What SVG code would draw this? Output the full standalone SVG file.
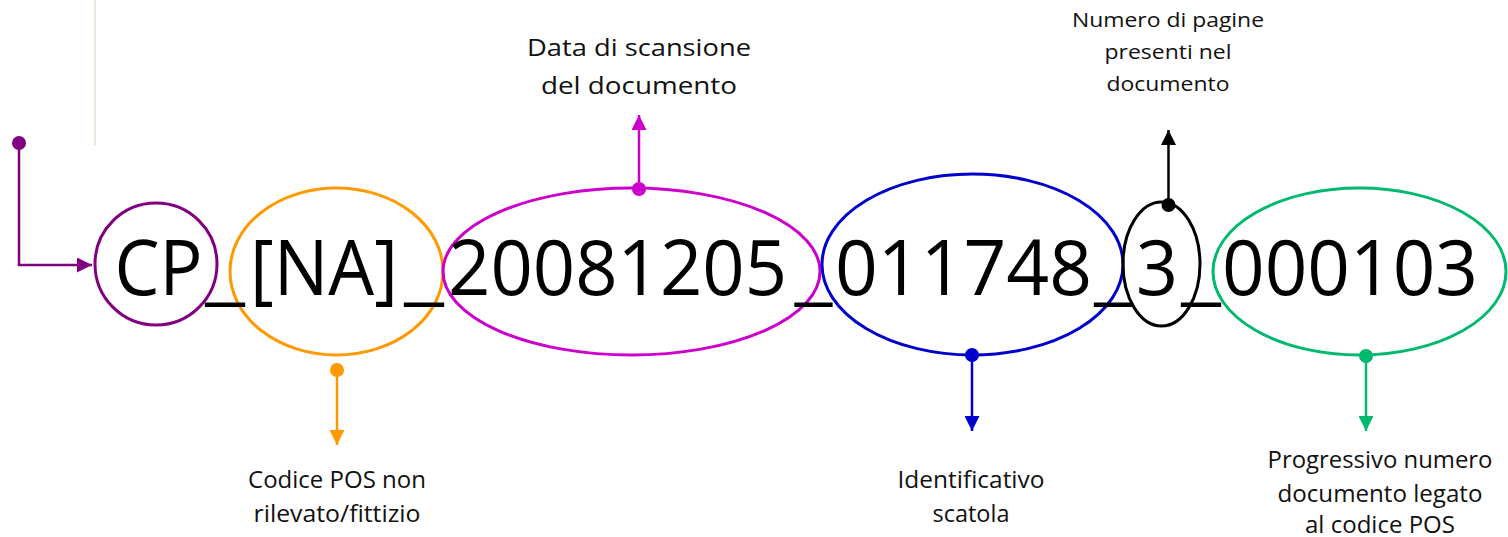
<svg xmlns="http://www.w3.org/2000/svg" width="1508" height="537" viewBox="0 0 1508 537">
<style>
.big{font-family:"Open Sans","Noto Sans","Liberation Sans",sans-serif;font-size:76px;fill:#000;text-anchor:middle}
.lbl{font-family:"Open Sans","Noto Sans","Liberation Sans",sans-serif;font-size:23px;fill:#111;text-anchor:middle}
.lbls{font-family:"Open Sans","Noto Sans","Liberation Sans",sans-serif;font-size:20.5px;fill:#111;text-anchor:middle}
.ring{fill:none;stroke-width:3}
.con{fill:none;stroke-width:2.5}
</style>
<defs>
<marker id="ah-purple" markerUnits="userSpaceOnUse" markerWidth="15" markerHeight="15" refX="15" refY="7.5" orient="auto"><path d="M0,0 L15,7.5 L0,15 z" fill="#800080"/></marker>
<marker id="ah-orange" markerUnits="userSpaceOnUse" markerWidth="15" markerHeight="15" refX="15" refY="7.5" orient="auto"><path d="M0,0 L15,7.5 L0,15 z" fill="#FF9900"/></marker>
<marker id="ah-magenta" markerUnits="userSpaceOnUse" markerWidth="15" markerHeight="15" refX="15" refY="7.5" orient="auto"><path d="M0,0 L15,7.5 L0,15 z" fill="#CC00CC"/></marker>
<marker id="ah-blue" markerUnits="userSpaceOnUse" markerWidth="15" markerHeight="15" refX="15" refY="7.5" orient="auto"><path d="M0,0 L15,7.5 L0,15 z" fill="#0000CC"/></marker>
<marker id="ah-black" markerUnits="userSpaceOnUse" markerWidth="15" markerHeight="15" refX="15" refY="7.5" orient="auto"><path d="M0,0 L15,7.5 L0,15 z" fill="#000"/></marker>
<marker id="ah-green" markerUnits="userSpaceOnUse" markerWidth="15" markerHeight="15" refX="15" refY="7.5" orient="auto"><path d="M0,0 L15,7.5 L0,15 z" fill="#00B86E"/></marker>
</defs>
<rect width="1508" height="537" fill="#fff"/>
<line x1="95" y1="0" x2="95" y2="145" stroke="#ECE8DE" stroke-width="2"/>

<g id="node-cp">
<circle class="ring" cx="156" cy="264" r="61" stroke="#800080"/>
</g>

<g id="node-na">
<ellipse class="ring" cx="336.5" cy="271.5" rx="106.5" ry="83.5" stroke="#FF9900"/>
<text class="lbl" x="337" y="488" textLength="178" lengthAdjust="spacingAndGlyphs">Codice POS non</text>
<text class="lbl" x="337" y="522" textLength="167" lengthAdjust="spacingAndGlyphs">rilevato/fittizio</text>
</g>

<g id="node-date">
<ellipse class="ring" cx="631.5" cy="271.5" rx="188.5" ry="83.5" stroke="#CC00CC"/>
<text class="lbl" x="639" y="56" textLength="224" lengthAdjust="spacingAndGlyphs">Data di scansione</text>
<text class="lbl" x="639" y="94" textLength="196" lengthAdjust="spacingAndGlyphs">del documento</text>
</g>

<g id="node-box">
<ellipse class="ring" cx="972.5" cy="264.5" rx="150.5" ry="90.5" stroke="#0000CC"/>
<text class="lbl" x="971" y="488" textLength="147" lengthAdjust="spacingAndGlyphs">Identificativo</text>
<text class="lbl" x="971" y="522" textLength="77" lengthAdjust="spacingAndGlyphs">scatola</text>
</g>

<g id="node-pages">
<ellipse class="ring" cx="1161.5" cy="264" rx="38.5" ry="62" stroke="#000"/>
<text class="lbls" x="1168" y="27" textLength="192" lengthAdjust="spacingAndGlyphs">Numero di pagine</text>
<text class="lbls" x="1168" y="59" textLength="127" lengthAdjust="spacingAndGlyphs">presenti nel</text>
<text class="lbls" x="1168" y="91" textLength="123" lengthAdjust="spacingAndGlyphs">documento</text>
</g>

<g id="node-progressive">
<ellipse class="ring" cx="1359.5" cy="271.5" rx="146.5" ry="83.5" stroke="#00B86E"/>
<text class="lbl" x="1380" y="468" textLength="225" lengthAdjust="spacingAndGlyphs">Progressivo numero</text>
<text class="lbl" x="1380" y="502" textLength="205" lengthAdjust="spacingAndGlyphs">documento legato</text>
<text class="lbl" x="1380" y="533" textLength="150" lengthAdjust="spacingAndGlyphs">al codice POS</text>
</g>

<g id="code-text">
<text class="big" y="295"><tspan x="158.5" textLength="88" lengthAdjust="spacingAndGlyphs">CP</tspan><tspan x="225" textLength="40" lengthAdjust="spacingAndGlyphs">_</tspan><tspan x="324" textLength="148" lengthAdjust="spacingAndGlyphs">[NA]</tspan><tspan x="424" textLength="40" lengthAdjust="spacingAndGlyphs">_</tspan><tspan x="617.5" textLength="339" lengthAdjust="spacingAndGlyphs">20081205</tspan><tspan x="813.5" textLength="38" lengthAdjust="spacingAndGlyphs">_</tspan><tspan x="963.5" textLength="257" lengthAdjust="spacingAndGlyphs">011748</tspan><tspan x="1113" textLength="38" lengthAdjust="spacingAndGlyphs">_</tspan><tspan x="1157" textLength="42" lengthAdjust="spacingAndGlyphs">3</tspan><tspan x="1201" textLength="40" lengthAdjust="spacingAndGlyphs">_</tspan><tspan x="1350" textLength="256" lengthAdjust="spacingAndGlyphs">000103</tspan></text>
</g>

<g id="connectors">
<circle cx="19" cy="143" r="7" fill="#800080"/>
<polyline class="con" points="19,143 19,265 92,265" stroke="#800080" marker-end="url(#ah-purple)"/>
<circle cx="337" cy="370" r="7" fill="#FF9900"/>
<line class="con" x1="337" y1="370" x2="337" y2="445" stroke="#FF9900" marker-end="url(#ah-orange)"/>
<circle cx="639" cy="189" r="7" fill="#CC00CC"/>
<line class="con" x1="639" y1="189" x2="639" y2="115" stroke="#CC00CC" marker-end="url(#ah-magenta)"/>
<circle cx="972" cy="355" r="7" fill="#0000CC"/>
<line class="con" x1="972" y1="355" x2="972" y2="431" stroke="#0000CC" marker-end="url(#ah-blue)"/>
<circle cx="1168.5" cy="205" r="7" fill="#000"/>
<line class="con" x1="1168.5" y1="205" x2="1168.5" y2="130" stroke="#000" marker-end="url(#ah-black)"/>
<circle cx="1366" cy="356" r="7" fill="#00B86E"/>
<line class="con" x1="1366" y1="356" x2="1366" y2="431" stroke="#00B86E" marker-end="url(#ah-green)"/>
</g>
</svg>
